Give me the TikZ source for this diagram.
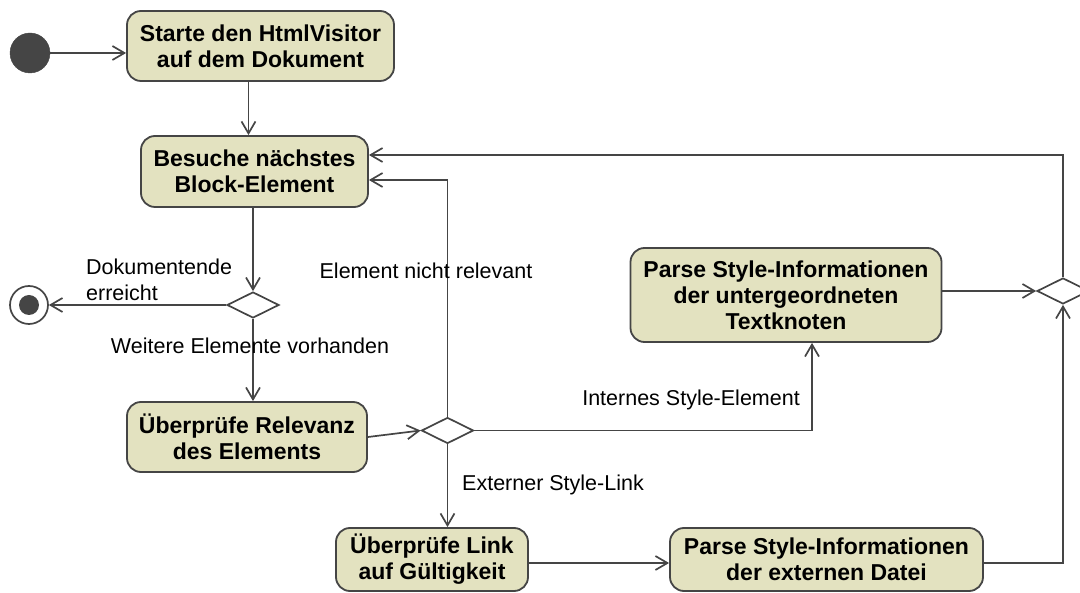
\documentclass[tikz,border=0pt]{standalone}
\usepackage{fontspec}
\setmainfont{Liberation Sans}
\usetikzlibrary{arrows.meta,shapes.geometric}
\definecolor{actfill}{HTML}{E3E2C0}
\definecolor{edgecol}{HTML}{454545}
\begin{document}
\begin{tikzpicture}[x=1pt,y=-1pt,
  action/.style={draw=edgecol, line width=1.8pt, fill=actfill, rounded corners=14pt,
    align=center, inner sep=0pt, font=\fontsize{23}{26}\selectfont\bfseries},
  decision/.style={diamond, draw=edgecol, line width=1.7pt, fill=white, aspect=2,
    minimum width=52pt, minimum height=26pt, inner sep=0pt},
  flow/.style={draw=edgecol, line width=1.7pt,
    -{Straight Barb[length=12pt,width=14pt,line width=1.7pt]}},
  lbl/.style={font=\fontsize{21.5}{26}\selectfont, inner sep=0pt, text=black}
]
\useasboundingbox (0,0) rectangle (1080,593);

% initial and final states
\node[circle, fill=edgecol, draw=edgecol, minimum size=40pt, inner sep=0pt] (start) at (30,53) {};
\node[circle, draw=edgecol, line width=1.7pt, fill=white, minimum size=38pt, inner sep=0pt] (stop) at (29,305) {};
\node[circle, fill=edgecol, minimum size=20pt, inner sep=0pt] (stopdot) at (stop.center) {};

% actions
\node[action, minimum width=267pt, minimum height=70pt] (A) at (260.5,46) {Starte den HtmlVisitor\\auf dem Dokument};
\node[action, minimum width=227pt, minimum height=71pt] (B) at (254.5,171.5) {Besuche nächstes\\Block-Element};
\node[action, minimum width=240pt, minimum height=70pt] (C) at (247,437) {Überprüfe Relevanz\\des Elements};
\node[action, minimum width=311pt, minimum height=94pt] (E) at (786,295) {Parse Style-Informationen\\der untergeordneten\\Textknoten};
\node[action, minimum width=192pt, minimum height=63pt] (F) at (432,559.5) {Überprüfe Link\\auf Gültigkeit};
\node[action, minimum width=313pt, minimum height=63pt] (G) at (826.5,559.5) {Parse Style-Informationen\\der externen Datei};

% decisions
\node[decision] (D1) at (253,305) {};
\node[decision] (D2) at (447.5,430.5) {};
\node[decision] (D3) at (1063,291) {};

% flows
\draw[flow] (start.east) -- (start.east -| A.west);
\draw[flow] ([xshift=-12pt]A.south) -- ([xshift=-12pt]A.south |- B.north);
\draw[flow] (B.south -| D1.north) -- (D1.north);
\draw[flow] (D1.west) -- (stop.east);
\draw[flow] (D1.south) -- (D1.south |- C.north);
\draw[flow] (C.east) -- (D2.west);
\draw[flow] (D2.north) |- ([yshift=-8.5pt]B.east);
\draw[flow] (D2.east) -| ([xshift=26pt]E.south);
\draw[flow] (D2.south) -- (D2.south |- F.north);
\draw[flow] ([yshift=-3.5pt]F.east) -- ([yshift=-3.5pt]F.east -| G.west);
\draw[flow] (E.east |- D3.west) -- (D3.west);
\draw[flow] ([yshift=-3.5pt]G.east) -| (D3.south);
\draw[flow] (D3.north) |- ([yshift=16.5pt]B.east);

% guard labels
\node[lbl, align=left, anchor=west] (lend) at (86,280) {Dokumentende\\erreicht};
\node[lbl] (lmore) at (250,346) {Weitere Elemente vorhanden};
\node[lbl] (lirr) at (426,271) {Element nicht relevant};
\node[lbl, anchor=east] (lint) at (800,400) {Internes Style-Element};
\node[lbl, anchor=west] (lext) at (462,485) {Externer Style-Link};
\end{tikzpicture}
\end{document}
